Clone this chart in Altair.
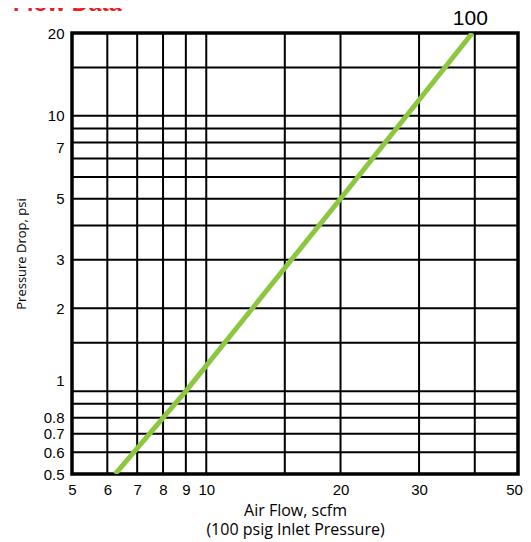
import altair as alt
import pandas as pd

# Data
flow = [6.25, 9.0, 20.0, 39.5]          # Air Flow, scfm
pressure = [0.5, 1.0, 5.0, 20.0]        # Pressure Drop, psi
series_label = "100"

x_grid = [6, 7, 8, 9, 10, 15, 20, 30, 40]
y_grid = [0.6, 0.7, 0.8, 0.9, 1, 1.5, 2, 3, 4, 5, 6, 7, 8, 9, 10, 15]
x_ticks = [5, 6, 7, 8, 9, 10, 20, 30, 50]
y_ticks = [0.5, 0.6, 0.7, 0.8, 1, 2, 3, 5, 7, 10, 20]

line_df = pd.DataFrame({"flow": flow, "pressure": pressure})
label_df = pd.DataFrame({"flow": [flow[-1]], "pressure": [pressure[-1]], "t": [series_label]})
xg_df = pd.DataFrame({"flow": x_grid})
yg_df = pd.DataFrame({"pressure": y_grid})
title_df = pd.DataFrame({"t": ["Flow Data"]})

xscale = alt.Scale(type="log", domain=[5, 50], nice=False)
yscale = alt.Scale(type="log", domain=[0.5, 20], nice=False)

xaxis = alt.Axis(
    values=x_ticks, grid=False, domain=False, ticks=False,
    labelFont="Liberation Sans", labelFontSize=15, labelColor="black",
    labelPadding=8, labelFlush=False,
    labelOffset={"condition": {"test": "datum.value == 50", "value": -4}, "value": 0},
    title=["Air Flow, scfm", "(100 psig Inlet Pressure)"],
    titleFont="Open Sans", titleFontSize=16, titleFontWeight="normal",
    titleColor="black", titlePadding=5, titleLineHeight=19,
)
yaxis = alt.Axis(
    values=y_ticks, grid=False, domain=False, ticks=False,
    labelFont="Liberation Sans", labelFontSize=15, labelColor="black",
    labelPadding=8, labelFlush=False,
    labelOffset={"condition": {"test": "datum.value == 1 || datum.value == 7", "value": -11}, "value": 0},
    title="Pressure Drop, psi",
    titleFont="Open Sans", titleFontSize=13, titleFontWeight="normal",
    titleColor="black", titlePadding=15,
)

vgrid = alt.Chart(xg_df).mark_rule(color="black", strokeWidth=2).encode(
    x=alt.X("flow:Q", scale=xscale, axis=xaxis)
)
hgrid = alt.Chart(yg_df).mark_rule(color="black", strokeWidth=2).encode(
    y=alt.Y("pressure:Q", scale=yscale, axis=yaxis)
)
line = alt.Chart(line_df).mark_line(color="#8DC63F", strokeWidth=5, clip=True).encode(
    x=alt.X("flow:Q", scale=xscale),
    y=alt.Y("pressure:Q", scale=yscale),
)
label = alt.Chart(label_df).mark_text(
    font="Liberation Sans", fontSize=21, color="black", dy=-14, dx=-2,
    baseline="middle", align="center"
).encode(
    x=alt.X("flow:Q", scale=xscale),
    y=alt.Y("pressure:Q", scale=yscale),
    text="t:N",
)
title = alt.Chart(title_df).mark_text(
    font="Liberation Sans", fontSize=23, fontWeight="bold", color="#ED1C24",
    align="left", baseline="alphabetic",
).encode(
    x=alt.value(-59), y=alt.value(-22), text="t:N"
)

chart = alt.layer(vgrid, hgrid, line, label, title).properties(
    width=446, height=441,
    autosize=alt.AutoSizeParams(type="none"),
    padding={"left": 64, "top": 25, "right": 5, "bottom": 66},
).configure_view(stroke="black", strokeWidth=3.5)

chart.save("out.html", embed_options={"renderer": "svg", "actions": False})
